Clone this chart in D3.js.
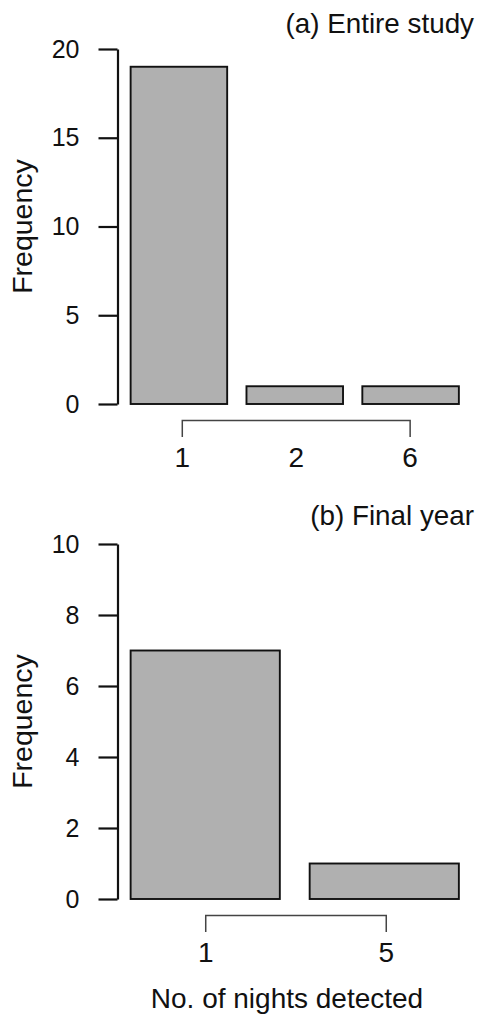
<!DOCTYPE html>
<html>
<head>
<meta charset="utf-8">
<script src="https://cdn.jsdelivr.net/npm/d3@7"></script>
<style>
  body { margin: 0; background: #fff; }
  svg text { font-family: "Liberation Sans", Arial, sans-serif; fill: #111; }
</style>
</head>
<body>
<div id="chart"></div>
<script>
// panel (a) entire study
const catsA = ["1", "2", "6"];
const freqA = [19, 1, 1];
const tickPosA = [0.73, 1.91, 3.09];
const yTicksA = [0, 5, 10, 15, 20];

// panel (b) final year
const catsB = ["1", "5"];
const freqB = [7, 1];
const tickPosB = [0.70, 1.91];
const yTicksB = [0, 2, 4, 6, 8, 10];

const width = 479, height = 1019;
const svg = d3.select("#chart").append("svg").attr("width", width).attr("height", height);

function panel(cfg) {
  const n = cfg.freq.length;
  // R barplot layout: width 1, space 0.2, 4% extension
  const lo = 0.2, hi = 1.2 * n, ext = (hi - lo) * 0.04;
  const x = d3.scaleLinear().domain([lo - ext, hi + ext]).range([117.5, 472]);
  const y = d3.scaleLinear().domain([0, d3.max(cfg.yTicks)]).range([cfg.bottom, cfg.bottom - 355]);

  const g = svg.append("g");

  g.selectAll("rect.bar")
    .data(cfg.freq)
    .join("rect")
    .attr("class", "bar")
    .attr("x", (d, i) => x(0.2 + 1.2 * i))
    .attr("width", x(1) - x(0))
    .attr("y", d => y(d))
    .attr("height", d => y(0) - y(d))
    .attr("fill", "#b0b0b0")
    .attr("stroke", "#111")
    .attr("stroke-width", 1.9);

  const yAxis = g.append("g")
    .attr("transform", `translate(${x.range()[0]},0)`)
    .call(d3.axisLeft(y).tickValues(cfg.yTicks).tickSize(19).tickSizeOuter(0).tickPadding(19));
  yAxis.selectAll("path, line").attr("stroke", "#111").attr("stroke-width", 2.2);
  yAxis.selectAll("text").attr("font-size", 25).attr("fill", null);
  yAxis.attr("font-family", null);

  // bracket-style category axis
  const xt = d3.scaleLinear()
    .domain([cfg.tickPos[0], cfg.tickPos[n - 1]])
    .range([x(cfg.tickPos[0]), x(cfg.tickPos[n - 1])]);
  const xAxis = g.append("g")
    .attr("transform", `translate(0,${cfg.bottom + 16})`)
    .call(d3.axisBottom(xt).tickValues(cfg.tickPos).tickSize(0).tickSizeOuter(17).tickPadding(27)
      .tickFormat((d, i) => cfg.cats[i]));
  xAxis.select(".domain").attr("stroke", "#444").attr("stroke-width", 1.5);
  xAxis.selectAll("text").attr("font-size", 28).attr("fill", null);
  xAxis.attr("font-family", null);

  g.append("text")
    .attr("transform", `translate(32,${(y(0) + y(d3.max(cfg.yTicks))) / 2}) rotate(-90)`)
    .attr("text-anchor", "middle")
    .attr("font-size", 28.5)
    .text("Frequency");

  g.append("text")
    .attr("x", 474).attr("y", cfg.titleY)
    .attr("text-anchor", "end")
    .attr("font-size", 27.8)
    .text(cfg.title);
}

panel({ cats: catsA, freq: freqA, tickPos: tickPosA, yTicks: yTicksA, bottom: 404, title: "(a) Entire study", titleY: 33 });
panel({ cats: catsB, freq: freqB, tickPos: tickPosB, yTicks: yTicksB, bottom: 899, title: "(b) Final year", titleY: 525 });

svg.append("text")
  .attr("x", 287).attr("y", 1008)
  .attr("text-anchor", "middle")
  .attr("font-size", 28)
  .text("No. of nights detected");
</script>
</body>
</html>
